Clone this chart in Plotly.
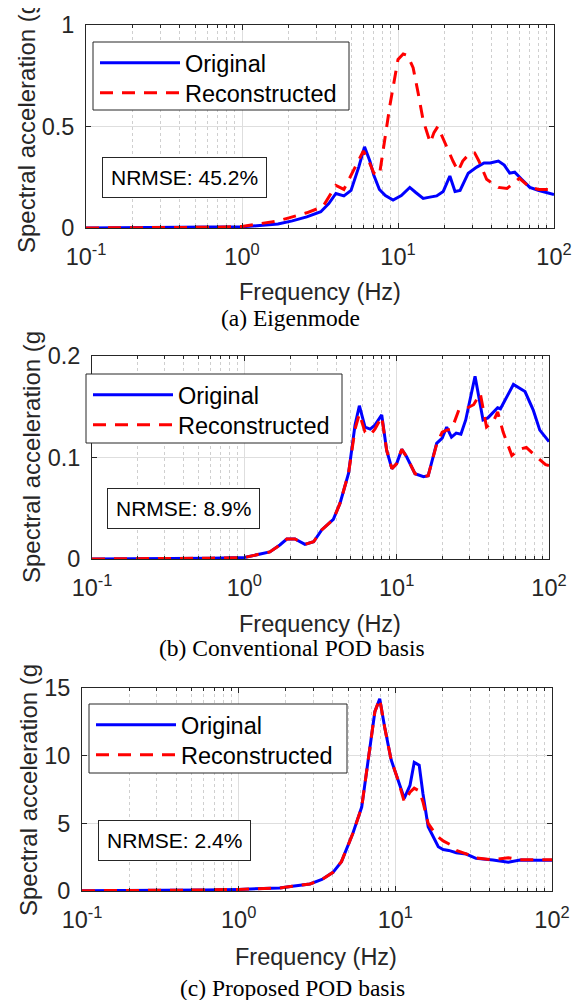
import plotly.graph_objects as go

# ---------------- data ----------------
# (a) Eigenmode
a_orig_f = [0.1, 0.2, 0.4, 0.7, 1.0, 1.3, 1.7, 2.1, 2.6, 3.2, 3.6, 4.0, 4.5, 5.0, 5.6, 6.1, 6.6, 7.0, 7.6, 8.3,
            9.3, 10.5, 11.9, 13.0, 14.5, 16.0, 17.7, 19.5, 21.5, 23.2, 25.0, 28.2, 32, 35.6, 39, 44, 48, 52, 56,
            62, 70, 80, 90, 100]
a_orig_v = [0, 0.001, 0.002, 0.003, 0.006, 0.012, 0.02, 0.035, 0.055, 0.08, 0.12, 0.17, 0.158, 0.185, 0.30,
            0.40, 0.33, 0.26, 0.19, 0.16, 0.138, 0.16, 0.20, 0.175, 0.146, 0.152, 0.158, 0.18, 0.256, 0.18,
            0.185, 0.27, 0.30, 0.32, 0.32, 0.33, 0.31, 0.27, 0.275, 0.24, 0.20, 0.185, 0.175, 0.165]
a_rec_f = [0.1, 0.2, 0.4, 0.7, 1.0, 1.3, 1.7, 2.0, 2.6, 3.3, 4.0, 4.5, 5.0, 5.6, 6.0, 6.5, 7.0, 7.6, 8.0, 8.9,
           10.0, 10.8, 11.5, 12.5, 13.5, 14.5, 16.1, 17.0, 18.0, 20.4, 22.5, 24.3, 26, 29, 31, 33, 37, 44, 50,
           55, 60, 70, 80, 89, 100]
a_rec_v = [0, 0.001, 0.002, 0.004, 0.008, 0.02, 0.035, 0.05, 0.075, 0.105, 0.21, 0.19, 0.26, 0.34, 0.38, 0.33,
           0.27, 0.26, 0.37, 0.61, 0.83, 0.857, 0.85, 0.79, 0.66, 0.53, 0.42, 0.47, 0.50, 0.40, 0.33, 0.28,
           0.33, 0.37, 0.37, 0.33, 0.24, 0.20, 0.195, 0.22, 0.245, 0.20, 0.19, 0.19, 0.19]

# (b) Conventional POD basis
b_orig_f = [0.1, 0.3, 0.6, 1.0, 1.47, 1.71, 1.9, 2.15, 2.5, 2.85, 3.22, 3.84, 4.25, 4.83, 5.33, 5.69, 6.2, 6.7,
            7.2, 7.98, 8.6, 9.3, 10.0, 10.8, 11.6, 13.2, 15.0, 16.1, 18.3, 19.9, 21.3, 22.9, 24.6, 26.4, 28.4,
            32.7, 36.9, 39.7, 46, 48, 58.4, 69.6, 78.7, 87, 100]
b_orig_v = [0, 0.0003, 0.0008, 0.0015, 0.007, 0.0138, 0.0197, 0.0197, 0.0144, 0.017, 0.0286, 0.039, 0.055,
            0.0844, 0.132, 0.151, 0.130, 0.128, 0.132, 0.142, 0.107, 0.089, 0.094, 0.108, 0.101, 0.084, 0.081,
            0.082, 0.114, 0.119, 0.130, 0.12, 0.124, 0.123, 0.137, 0.18, 0.137, 0.139, 0.149, 0.148, 0.172,
            0.165, 0.147, 0.127, 0.1156]
b_rec_f = [0.1, 0.3, 0.6, 1.0, 1.47, 1.71, 1.9, 2.15, 2.5, 2.85, 3.22, 3.84, 4.25, 4.83, 5.33, 5.69, 6.2, 6.7,
           7.2, 7.98, 8.6, 9.3, 10.0, 10.8, 11.6, 13.2, 15.0, 16.1, 18.3, 19.9, 21.3, 23.0, 25.6, 28.4, 32.0,
           35.4, 38.9, 43, 46, 50, 57, 64, 71, 81, 95, 100]
b_rec_v = [0, 0.0003, 0.0008, 0.0015, 0.007, 0.0138, 0.0197, 0.0197, 0.0144, 0.017, 0.0286, 0.039, 0.055,
           0.0844, 0.128, 0.143, 0.125, 0.122, 0.128, 0.140, 0.107, 0.089, 0.094, 0.108, 0.101, 0.084, 0.081,
           0.082, 0.113, 0.125, 0.127, 0.128, 0.147, 0.148, 0.152, 0.163, 0.13, 0.135, 0.145, 0.125, 0.102,
           0.108, 0.11, 0.102, 0.093, 0.092]

# (c) Proposed POD basis
c_orig_f = [0.1, 0.3, 0.6, 1.0, 1.4, 1.83, 2.2, 2.85, 3.4, 4.0, 4.53, 5.36, 6.1, 6.7, 7.4, 7.95, 8.55, 9.4,
            10.4, 11.4, 12.4, 13.2, 14.2, 15.0, 16.2, 18.8, 20.2, 21.9, 24.5, 28.3, 32.7, 42, 52.6, 62.5, 80, 100]
c_orig_v = [0.02, 0.04, 0.07, 0.12, 0.15, 0.22, 0.35, 0.52, 0.85, 1.38, 2.17, 4.26, 6.2, 9.7, 13.25, 14.2,
            12.1, 9.7, 8.2, 6.85, 7.8, 9.5, 9.3, 7.2, 4.75, 3.27, 3.07, 3.0, 2.83, 2.73, 2.41, 2.29, 2.12,
            2.29, 2.28, 2.28]
c_rec_f = [0.1, 0.3, 0.6, 1.0, 1.4, 1.83, 2.2, 2.85, 3.4, 4.0, 4.53, 5.36, 6.1, 6.7, 7.4, 7.95, 8.55, 9.4,
           10.4, 11.4, 12.4, 13.2, 14.2, 15.0, 16.2, 18.3, 20.2, 22.7, 24.5, 28.3, 32.7, 42, 52.6, 62.5, 80, 100]
c_rec_v = [0.02, 0.04, 0.07, 0.12, 0.15, 0.22, 0.35, 0.52, 0.85, 1.38, 2.17, 4.26, 6.2, 9.7, 13.25, 14.2,
           12.1, 9.7, 8.2, 6.6, 7.3, 7.6, 7.4, 6.6, 5.0, 4.1, 3.7, 3.4, 3.0, 2.75, 2.45, 2.3, 2.46, 2.3, 2.3, 2.3]

x_tick_vals = [0.1, 1, 10, 100]
x_tick_text = ["10<sup>-1</sup>", "10<sup>0</sup>", "10<sup>1</sup>", "10<sup>2</sup>"]
x_minor_vals = [0.2, 0.3, 0.4, 0.5, 0.6, 0.7, 0.8, 0.9, 2, 3, 4, 5, 6, 7, 8, 9, 20, 30, 40, 50, 60, 70, 80, 90]

a_y_ticks = [0, 0.5, 1]
a_y_text = ["0", "0.5", "1"]
b_y_ticks = [0, 0.1, 0.2]
b_y_text = ["0", "0.1", "0.2"]
c_y_ticks = [0, 5, 10, 15]
c_y_text = ["0", "5", "10", "15"]

series_names = ["Original", "Reconstructed"]
nrmse_labels = ["NRMSE: 45.2%", "NRMSE: 8.9%", "NRMSE: 2.4%"]
captions = ["(a) Eigenmode", "(b) Conventional POD basis", "(c) Proposed POD basis"]
y_title = "Spectral acceleration (g"
x_title = "Frequency (Hz)"

# ---------------- layout helpers ----------------
OFF = 8                      # default page (body) margin of the html page
W, H = 581 - OFF, 1000 - OFF
SANS = "Liberation Sans, Arial, sans-serif"
SERIF = "Liberation Serif, Times New Roman, serif"
AX = "#262626"


def px(x):
    return (x - OFF) / W


def py(y):
    return 1 - (y - OFF) / H


panels = [
    dict(xr=(86, 554), yr=(25, 228), ymax=1, yt=a_y_ticks, ytt=a_y_text,
         of=a_orig_f, ov=a_orig_v, rf=a_rec_f, rv=a_rec_v,
         box=(93, 349, 42, 110), nr=(184, 177.5), ylab=(26, 255), xlab=(320, 292), cap=(290, 318)),
    dict(xr=(92, 549), yr=(356, 559), ymax=0.2, yt=b_y_ticks, ytt=b_y_text,
         of=b_orig_f, ov=b_orig_v, rf=b_rec_f, rv=b_rec_v,
         box=(86, 342, 374, 443), nr=(183.5, 508.5), ylab=(31, 585), xlab=(320, 624), cap=(292, 648)),
    dict(xr=(82, 552), yr=(688, 891), ymax=15, yt=c_y_ticks, ytt=c_y_text,
         of=c_orig_f, ov=c_orig_v, rf=c_rec_f, rv=c_rec_v,
         box=(89, 347, 704, 773), nr=(174.5, 840.5), ylab=(28, 918), xlab=(316, 957), cap=(292, 988)),
]

fig = go.Figure()
annotations = []
shapes = []
layout = {}
line_styles = [dict(color="#0000FF", width=3), dict(color="#FF0000", width=3, dash="13px,9px")]
entry_offsets = [21, 51]

for i, p in enumerate(panels):
    n = "" if i == 0 else str(i + 1)
    xa, ya = "x" + n, "y" + n
    bl, br, bt, bb = p["box"]
    series = [(p["of"], p["ov"]), (p["rf"], p["rv"])]
    for j, (fx, fv) in enumerate(series):
        k = 2 * i + j
        legname = "legend" if k == 0 else "legend%d" % (k + 1)
        fig.add_trace(go.Scatter(x=fx, y=fv, mode="lines", name=series_names[j],
                                 line=line_styles[j], xaxis=xa, yaxis=ya, legend=legname))
        layout[legname] = dict(
            x=px(bl + 2), y=py(bt + entry_offsets[j]), xanchor="left", yanchor="middle",
            bgcolor="rgba(0,0,0,0)", borderwidth=0,
            font=dict(family=SANS, size=23.5, color="black"), itemwidth=80,
        )
    # legend frame
    shapes.append(dict(type="rect", xref="paper", yref="paper", x0=px(bl), x1=px(br),
                       y0=py(bb), y1=py(bt), line=dict(color=AX, width=1),
                       fillcolor="white", layer="above"))

    layout["xaxis" + n] = dict(
        type="log", range=[-1, 2], domain=[px(p["xr"][0]), px(p["xr"][1])], anchor=ya,
        tickvals=x_tick_vals, ticktext=x_tick_text, ticks="inside", ticklen=5, tickcolor=AX,
        showline=True, linecolor=AX, linewidth=1, mirror="ticks",
        showgrid=True, gridcolor="#dedede", gridwidth=1,
        minor=dict(tickvals=x_minor_vals, ticks="inside", ticklen=3, tickcolor=AX,
                   showgrid=True, gridcolor="#cfcfcf", griddash="dot", gridwidth=1),
        tickfont=dict(family=SANS, size=23.5, color=AX), zeroline=False, fixedrange=True,
        ticklabelstandoff=8, automargin=False,
    )
    layout["yaxis" + n] = dict(
        range=[0, p["ymax"]], domain=[py(p["yr"][1]), py(p["yr"][0])], anchor=xa,
        tickvals=p["yt"], ticktext=p["ytt"], ticks="inside", ticklen=5, tickcolor=AX,
        showline=True, linecolor=AX, linewidth=1, mirror="ticks",
        showgrid=True, gridcolor="#dedede", gridwidth=1,
        tickfont=dict(family=SANS, size=23.5, color=AX), zeroline=False, fixedrange=True,
        ticklabelstandoff=6, automargin=False,
    )
    annotations.append(dict(text=nrmse_labels[i], x=px(p["nr"][0]), y=py(p["nr"][1]),
                            xref="paper", yref="paper", xanchor="center", yanchor="middle",
                            showarrow=False, bgcolor="white", bordercolor=AX, borderwidth=1,
                            borderpad=8, font=dict(family=SANS, size=21, color="black")))
    annotations.append(dict(text=y_title, x=px(p["ylab"][0]), y=py(p["ylab"][1]),
                            xref="paper", yref="paper", xanchor="center", yanchor="bottom",
                            textangle=-90, showarrow=False,
                            font=dict(family=SANS, size=24, color=AX)))
    annotations.append(dict(text=x_title, x=px(p["xlab"][0]), y=py(p["xlab"][1]),
                            xref="paper", yref="paper", xanchor="center", yanchor="middle",
                            showarrow=False, font=dict(family=SANS, size=23.5, color=AX)))
    annotations.append(dict(text=captions[i], x=px(p["cap"][0]), y=py(p["cap"][1]),
                            xref="paper", yref="paper", xanchor="center", yanchor="middle",
                            showarrow=False, font=dict(family=SERIF, size=23.5, color="black")))

fig.update_layout(
    width=W, height=H, margin=dict(l=0, r=0, t=0, b=0, pad=0, autoexpand=False),
    paper_bgcolor="white", plot_bgcolor="white", showlegend=True,
    annotations=annotations, shapes=shapes, **layout,
)

fig.write_html("out.html")
